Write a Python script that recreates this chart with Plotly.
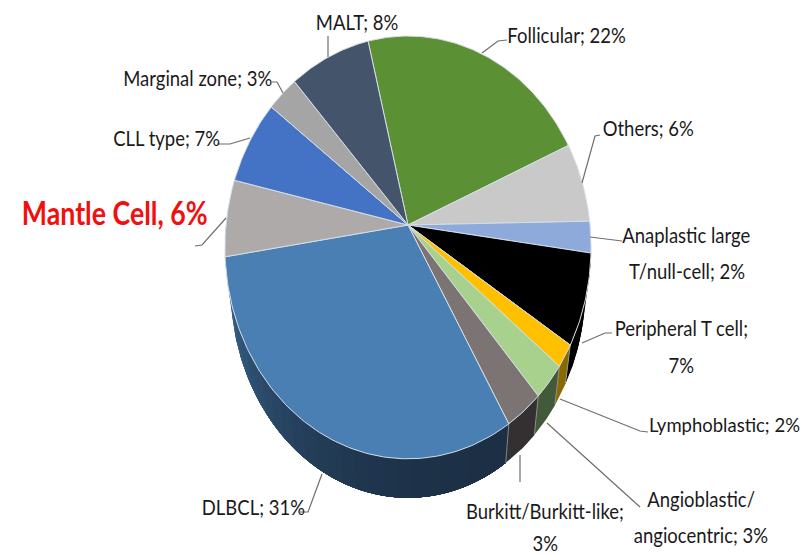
import math
import plotly.graph_objects as go

# ---- data ----
categories = ["Follicular", "Others", "Anaplastic large T/null-cell", "Peripheral T cell",
              "Lymphoblastic", "Angioblastic/angiocentric", "Burkitt/Burkitt-like", "DLBCL",
              "Mantle Cell", "CLL type", "Marginal zone", "MALT"]
values = [22.4, 6.2, 2.4, 7.0, 1.75, 2.7, 3.05, 31.0, 5.9, 6.75, 3.0, 7.85]
top_colors = ["#5b9134", "#c9c9c9", "#8eaadb", "#000000", "#ffc000", "#a9d18e",
              "#7b7472", "#4a7fb4", "#aeaaaa", "#4472c4", "#a5a5a5", "#44546a"]
side_start = ["#3c5f22", "#868686", "#5f7193", "#000000", "#8a6a00", "#42593a",
              "#343032", "#1c2f45", "#746f6f", "#2d4c83", "#6e6e6e", "#2d3847"]
side_end = ["#3c5f22", "#868686", "#5f7193", "#000000", "#8a6a00", "#42593a",
            "#343032", "#3a6a94", "#746f6f", "#2d4c83", "#6e6e6e", "#2d3847"]

# ---- pie geometry (perspective view of a tilted disc, in page pixels) ----
START_DEG = -14.0
CX, CY = 408.0, 225.0
A_X, A_Y, K = 182.0, 209.0, 0.106
DEPTH, BOTTOM_SCALE = 39.0, 0.97


def rim(theta_deg):
    t = math.radians(theta_deg)
    u, v = math.sin(t), math.cos(t)
    d = 1 + K * v
    return CX + A_X * u / d, CY - A_Y * v / d


def lower(theta_deg):
    x, y = rim(theta_deg)
    return CX + (x - CX) * BOTTOM_SCALE, y + DEPTH


def arc(a, b, step=1.0):
    n = max(2, int(abs(b - a) / step) + 1)
    return [a + (b - a) * i / (n - 1) for i in range(n)]


def mix(c1, c2, f):
    p = [int(c1[i:i + 2], 16) for i in (1, 3, 5)]
    q = [int(c2[i:i + 2], 16) for i in (1, 3, 5)]
    return "rgb(%d,%d,%d)" % tuple(round(p[i] + (q[i] - p[i]) * f) for i in range(3))


total = sum(values)
edges = [START_DEG]
for val in values:
    edges.append(edges[-1] + val / total * 360)

fig = go.Figure()

# side wall, lower half only (drawn from the far end so each strip overlaps the next)
for i in range(len(values)):
    a, b = max(edges[i], 90), min(edges[i + 1], 270)
    if b <= a:
        continue
    parts = max(1, int((b - a) / 4))
    for p in reversed(range(parts)):
        s, e = a, a + (b - a) * (p + 1) / parts
        f = (p + 0.5) / parts
        f = f ** 2.2 if side_start[i] != side_end[i] else 0
        col = mix(side_start[i], side_end[i], f)
        ths = arc(s, e)
        xs = [rim(t)[0] for t in ths] + [lower(t)[0] for t in reversed(ths)]
        ys = [rim(t)[1] for t in ths] + [lower(t)[1] for t in reversed(ths)]
        fig.add_trace(go.Scatter(x=xs, y=ys, mode="lines", fill="toself", fillcolor=col,
                                 line=dict(width=0), hoverinfo="skip", showlegend=False))
    # light seam on the wall at the start of a slice
    if 90 < edges[i] < 270:
        p0, p1 = rim(edges[i]), lower(edges[i])
        fig.add_trace(go.Scatter(x=[p0[0], p1[0]], y=[p0[1], p1[1]], mode="lines",
                                 line=dict(color="#9a9a9a", width=0.8), hoverinfo="skip", showlegend=False))

# top face
for i, name in enumerate(categories):
    ths = arc(edges[i], edges[i + 1])
    xs = [CX] + [rim(t)[0] for t in ths] + [CX]
    ys = [CY] + [rim(t)[1] for t in ths] + [CY]
    fig.add_trace(go.Scatter(x=xs, y=ys, mode="lines", fill="toself", fillcolor=top_colors[i],
                             line=dict(color="#d5dde6", width=1), name=name, showlegend=False,
                             hovertemplate=f"{name}: {values[i]}%<extra></extra>"))

# ---- leader lines (page pixels) ----
leaders = [
    [(328, 36), (328, 57)],
    [(507, 40), (498, 41), (482, 53)],
    [(600, 135), (595, 136), (582, 183)],
    [(622, 241), (590, 237)],
    [(612, 333), (605, 333), (582, 343)],
    [(648, 432), (640, 431), (560, 399)],
    [(640, 507), (547, 423)],
    [(520, 455), (520, 482)],
    [(300, 512), (308, 512), (322, 474)],
    [(195, 246), (202, 245), (226, 218)],
    [(217, 144), (230, 144), (250, 138)],
    [(272, 82), (277, 82), (283, 93)],
]
for pts in leaders:
    fig.add_trace(go.Scatter(x=[p[0] for p in pts], y=[p[1] for p in pts], mode="lines",
                             line=dict(color="#6e6e6e", width=1.2), hoverinfo="skip", showlegend=False))

# ---- labels: text, centre x, centre y, font size ----
FONT = "Lato, Liberation Sans, sans-serif"
labels = [
    ("MALT; 8%", 357, 21, 22), ("Follicular; 22%", 566, 34, 22), ("Others; 6%", 648, 127, 22),
    ("Anaplastic large", 686, 234, 22), ("T/null-cell; 2%", 687, 270, 22),
    ("Peripheral T cell;", 681, 327, 22), ("7%", 681, 364, 22),
    ("Lymphoblastic; 2%", 724, 424, 19),
    ("Angioblastic/", 701, 498, 22), ("angiocentric; 3%", 701, 534, 22),
    ("Burkitt/Burkitt-like;", 545, 510, 22), ("3%", 545, 542, 22),
    ("DLBCL; 31%", 253, 506, 22), ("CLL type; 7%", 166, 137, 22), ("Marginal zone; 3%", 197, 77, 22),
]
annotations = [dict(x=x, y=y, text=t, showarrow=False, xanchor="center", yanchor="middle",
                    font=dict(family=FONT, size=s, color="#1a1a1a")) for t, x, y, s in labels]
annotations.append(dict(x=114, y=212, text="<b>Mantle Cell, 6%</b>", showarrow=False,
                        xanchor="center", yanchor="middle",
                        font=dict(family=FONT, size=33, color="#f01010")))

fig.update_layout(
    width=806, height=556, margin=dict(l=0, r=0, t=0, b=0),
    paper_bgcolor="white", plot_bgcolor="white", showlegend=False,
    annotations=annotations,
    xaxis=dict(range=[0, 806], visible=False, fixedrange=True),
    yaxis=dict(range=[556, 0], visible=False, fixedrange=True),
)
# page margin off; the reference's labels are set in a condensed face, so narrow the glyphs
POST = """
document.body.style.margin='0';document.body.style.overflow='hidden';
document.querySelectorAll('.annotation-text').forEach(function(t){
  var w=t.getComputedTextLength();
  var s=parseFloat(t.style.fontSize);
  var k=s>30?0.81:0.84*22/s;
  t.setAttribute('lengthAdjust','spacingAndGlyphs');
  t.setAttribute('textLength',w*k);
});
"""
fig.write_html("out.html", config=dict(displayModeBar=False), post_script=POST)
